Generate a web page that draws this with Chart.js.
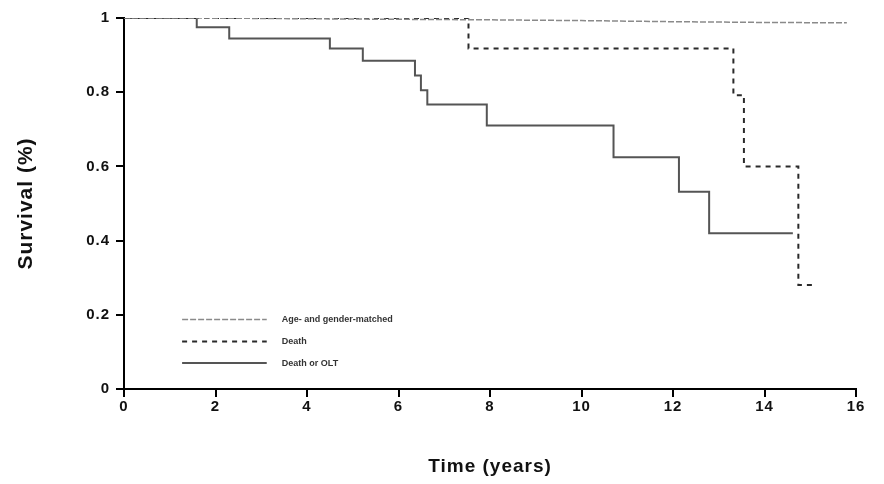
<!DOCTYPE html>
<html>
<head>
<meta charset="utf-8">
<script src="https://cdn.jsdelivr.net/npm/chart.js@4"></script>
<style>
html,body{margin:0;padding:0;background:#fff;}
#wrap{width:884px;height:484px;position:relative;}
</style>
</head>
<body>
<div id="wrap"><canvas id="c" width="884" height="484"></canvas></div>
<script>
// ---- data ----
const seriesLabels = ["Age- and gender-matched", "Death", "Death or OLT"];
const ageTimes = [0, 1.5, 4, 8, 10, 12, 14, 15.8];
const ageValues = [1, 1, 0.998, 0.995, 0.993, 0.99, 0.988, 0.987];
const deathTimes = [0, 7.53, 13.32, 13.55, 14.74, 15.14];
const deathValues = [1, 0.918, 0.792, 0.6, 0.28, 0.28];
const olTimes = [0, 1.59, 2.30, 4.50, 5.22, 6.36, 6.49, 6.63, 7.93, 10.70, 12.13, 12.79, 14.62];
const olValues = [1, 0.975, 0.945, 0.918, 0.885, 0.845, 0.805, 0.767, 0.71, 0.625, 0.532, 0.42, 0.42];
const xTickValues = [0, 2, 4, 6, 8, 10, 12, 14, 16];
const yTickValues = [0, 0.2, 0.4, 0.6, 0.8, 1];
const xTitle = "Time (years)";
const yTitle = "Survival (%)";

const pts = (t, v) => t.map((x, i) => ({x: x, y: v[i]}));
const FONT = "'Liberation Sans', Arial, sans-serif";

const spacingPlugin = {
  id: 'spacing',
  beforeUpdate(chart) { chart.ctx.letterSpacing = '1px'; },
  beforeLayout(chart) { chart.ctx.letterSpacing = '1px'; },
  beforeDraw(chart) { chart.ctx.letterSpacing = '1px'; }
};

const legendPlugin = {
  id: 'insideLegend',
  afterDatasetsDraw(chart) {
    const ctx = chart.ctx;
    const xs = chart.scales.x, ys = chart.scales.y;
    const x0 = xs.getPixelForValue(1.27), x1 = xs.getPixelForValue(3.12);
    const xt = xs.getPixelForValue(3.45);
    const rowY = [ys.getPixelForValue(0.187), ys.getPixelForValue(0.128), ys.getPixelForValue(0.07)];
    chart.data.datasets.forEach((ds, i) => {
      ctx.save();
      ctx.strokeStyle = ds.borderColor;
      ctx.lineWidth = ds.borderWidth;
      ctx.setLineDash(ds.borderDash || []);
      ctx.beginPath();
      ctx.moveTo(x0, rowY[i]);
      ctx.lineTo(x1, rowY[i]);
      ctx.stroke();
      ctx.setLineDash([]);
      ctx.fillStyle = '#333';
      ctx.letterSpacing = '0px';
      ctx.font = "bold 9px " + FONT;
      ctx.textBaseline = 'middle';
      ctx.fillText(ds.label, xt, rowY[i]);
      ctx.restore();
    });
  }
};

new Chart(document.getElementById('c'), {
  type: 'line',
  data: {
    datasets: [
      {label: seriesLabels[0], data: pts(ageTimes, ageValues), borderColor: '#8a8a8a', borderWidth: 1.5, borderDash: [6, 2], pointRadius: 0, stepped: false, tension: 0},
      {label: seriesLabels[1], data: pts(deathTimes, deathValues), borderColor: '#2a2a2a', borderWidth: 2, borderDash: [5, 5], pointRadius: 0, stepped: true},
      {label: seriesLabels[2], data: pts(olTimes, olValues), borderColor: '#555555', borderWidth: 2, pointRadius: 0, stepped: true}
    ]
  },
  options: {
    responsive: false,
    animation: false,
    layout: {padding: {left: 4, right: 28, top: 18, bottom: 0}},
    plugins: {legend: {display: false}, tooltip: {enabled: false}},
    scales: {
      x: {
        type: 'linear', min: 0, max: 16,
        afterBuildTicks: s => { s.ticks = xTickValues.map(v => ({value: v})); },
        afterFit: s => { s.height = 95; },
        ticks: {color: '#111', font: {family: FONT, size: 15, weight: 'bold'}, padding: 1, callback: v => String(v)},
        grid: {display: true, drawOnChartArea: false, drawTicks: true, tickLength: 8, color: '#000', lineWidth: 2},
        border: {display: true, color: '#000', width: 2},
        title: {display: true, text: xTitle, color: '#111', font: {family: FONT, size: 19, weight: 'bold'}, padding: {top: 4, bottom: 6}}
      },
      y: {
        type: 'linear', min: 0, max: 1,
        afterBuildTicks: s => { s.ticks = yTickValues.map(v => ({value: v})); },
        afterFit: s => { s.width = 120; },
        ticks: {color: '#111', font: {family: FONT, size: 15, weight: 'bold'}, padding: 6, callback: v => String(Math.round(v * 10) / 10)},
        grid: {display: true, drawOnChartArea: false, drawTicks: true, tickLength: 8, color: '#000', lineWidth: 2},
        border: {display: true, color: '#000', width: 2},
        title: {display: true, text: yTitle, color: '#111', font: {family: FONT, size: 21, weight: 'bold'}, padding: {top: 10, bottom: 4}}
      }
    }
  },
  plugins: [spacingPlugin, legendPlugin]
});
</script>
</body>
</html>
